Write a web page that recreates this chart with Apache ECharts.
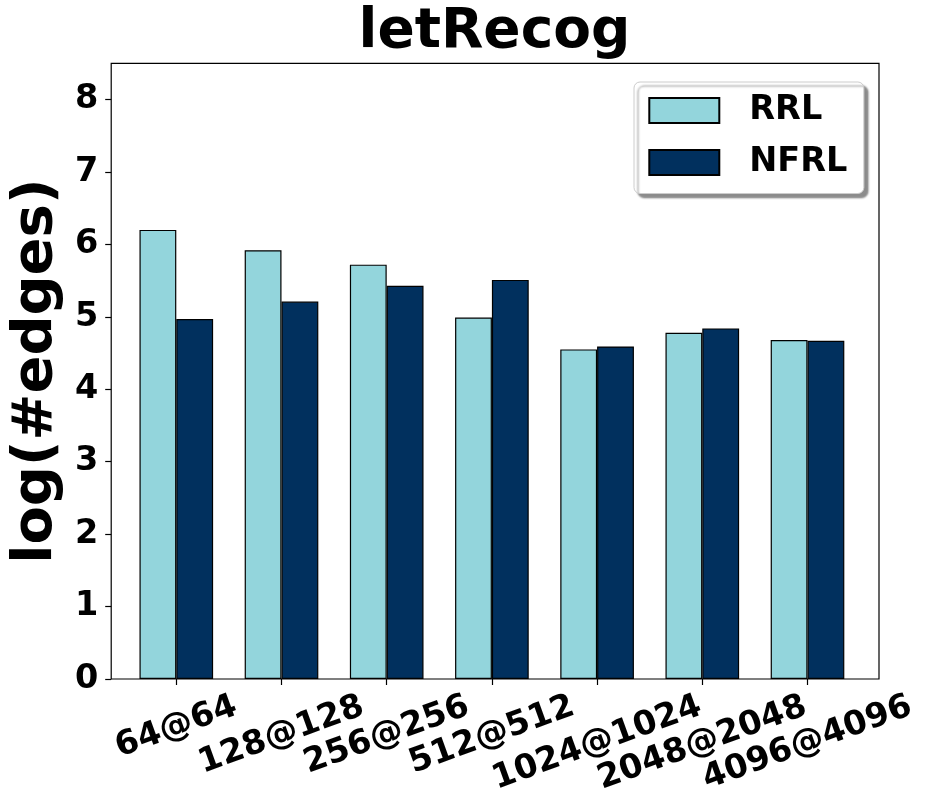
<!DOCTYPE html>
<html><head><meta charset="utf-8">
<script src="https://cdn.jsdelivr.net/npm/echarts@6/dist/echarts.min.js"></script>
<style>html,body{margin:0;padding:0;background:#fff}#c{width:929px;height:809px}</style>
</head><body><div id="c"></div>
<script>
const categories = ['64@64','128@128','256@256','512@512','1024@1024','2048@2048','4096@4096'];
const rrl = [6.20, 5.92, 5.72, 4.99, 4.55, 4.78, 4.68];
const nfrl = [4.97, 5.21, 5.43, 5.51, 4.59, 4.84, 4.67];
const yTicks = [0, 1, 2, 3, 4, 5, 6, 7, 8];
const seriesNames = ['RRL', 'NFRL'];
const colors = ['#93D5DC', '#01305E'];
const titleText = 'letRecog';
const yName = 'log(#edges)';

const FONT = '"DejaVu Sans", sans-serif';
const XF = 33.5;
const ang = 20 * Math.PI / 180;
const ctx = document.createElement('canvas').getContext('2d');
ctx.font = 'bold ' + XF + 'px "DejaVu Sans"';
const rich = {};
categories.forEach((c, i) => {
  const w = ctx.measureText(c).width;
  const d = w * Math.sin(ang) / 2;
  rich['c' + i] = {
    fontSize: XF, fontWeight: 'bold', fontFamily: FONT, color: '#000',
    padding: [2 * d * Math.cos(ang), 2 * d * Math.sin(ang), 0, 0]
  };
});

const gTop = 63.3, gBottom = 130;
const chart = echarts.init(document.getElementById('c'), null, {renderer: 'canvas'});
chart.setOption({
  animation: false,
  backgroundColor: '#fff',
  title: {
    text: titleText, left: 489.5, textAlign: 'center', top: 0,
    textStyle: {fontFamily: FONT, fontWeight: 'bold', fontSize: 55, color: '#000'}
  },
  legend: {
    orient: 'vertical', left: 634, top: 82,
    padding: [11.5, 16.5, 14, 14.3],
    itemWidth: 70, itemHeight: 25, itemGap: 18,
    icon: 'rect',
    backgroundColor: '#fff', borderColor: '#cccccc', borderWidth: 1, borderRadius: 6,
    shadowColor: 'rgba(0,0,0,0.45)', shadowBlur: 2, shadowOffsetX: 4, shadowOffsetY: 4,
    selectedMode: false,
    textStyle: {fontFamily: FONT, fontWeight: 'bold', fontSize: 33.5, color: '#000', padding: [0, 0, 0, 25]},
    data: seriesNames
  },
  grid: [
    {left: 123.7, right: 68.9, top: gTop, bottom: gBottom},
    {left: 104, right: 50, top: gTop, bottom: gBottom, show: true, borderColor: '#000', borderWidth: 1.2, backgroundColor: 'transparent'}
  ],
  xAxis: [
    {
      type: 'category', gridIndex: 0, data: categories, boundaryGap: true,
      axisLine: {show: false},
      axisTick: {show: true, alignWithLabel: true, length: 6, lineStyle: {color: '#000', width: 1.2}},
      axisLabel: {
        interval: 0, rotate: 20, align: 'center', verticalAlign: 'middle', margin: 26.5,
        fontFamily: FONT, fontWeight: 'bold', fontSize: XF, color: '#000',
        formatter: (v, i) => '{c' + i + '|' + v + '}',
        rich: rich
      },
      splitLine: {show: false}
    },
    {type: 'value', gridIndex: 1, min: 0, max: 1, show: false}
  ],
  yAxis: [
    {type: 'value', gridIndex: 0, min: 0, max: 8.5, show: false},
    {
      type: 'value', gridIndex: 1, min: 0, max: 8.5,
      axisLine: {show: false},
      axisTick: {show: true, length: 6, customValues: yTicks, lineStyle: {color: '#000', width: 1.2}},
      axisLabel: {customValues: yTicks, margin: 13, fontFamily: FONT, fontWeight: 'bold', fontSize: 33.5, color: '#000'},
      splitLine: {show: false},
      name: yName, nameLocation: 'middle', nameGap: 42, nameRotate: 90,
      nameTextStyle: {fontFamily: FONT, fontWeight: 'bold', fontSize: 56, color: '#000'}
    }
  ],
  series: [
    {
      name: seriesNames[0], type: 'bar', xAxisIndex: 0, yAxisIndex: 0, data: rrl,
      barWidth: '35%', barGap: '0%',
      itemStyle: {color: colors[0], borderColor: '#000', borderWidth: 1.2}
    },
    {
      name: seriesNames[1], type: 'bar', xAxisIndex: 0, yAxisIndex: 0, data: nfrl,
      barWidth: '35%', barGap: '0%',
      itemStyle: {color: colors[1], borderColor: '#000', borderWidth: 1.2}
    }
  ]
});
</script></body></html>
